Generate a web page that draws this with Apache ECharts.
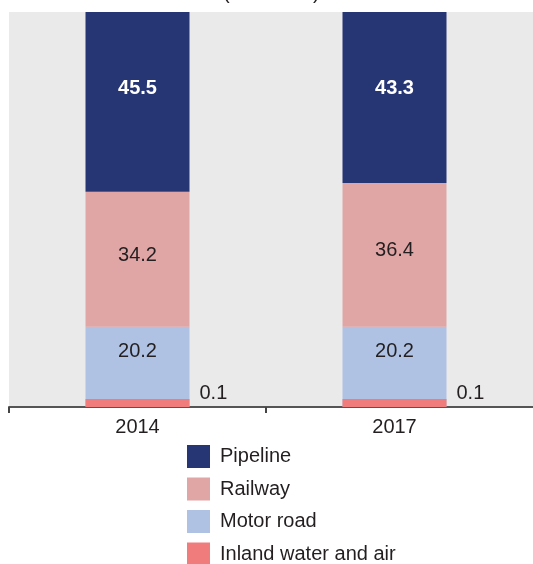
<!DOCTYPE html>
<html>
<head>
<meta charset="utf-8">
<script src="https://cdn.jsdelivr.net/npm/echarts@6/dist/echarts.min.js"></script>
<style>
  html, body { margin: 0; padding: 0; background: #fff; }
  #chart { width: 533px; height: 564px; }
</style>
</head>
<body>
<div id="chart"></div>
<script>
  // chart data
  const years = ['2014', '2017'];
  const inlandWaterAir = [0.1, 0.1];
  const motorRoad = [20.2, 20.2];
  const railway = [34.2, 36.4];
  const pipeline = [45.5, 43.3];
  const legendOrder = ['Pipeline', 'Railway', 'Motor road', 'Inland water and air'];

  const chart = echarts.init(document.getElementById('chart'));
  const font = 'Liberation Sans, Arial, sans-serif';
  const textColor = '#231F20';

  const option = {
    animation: false,
    textStyle: { fontFamily: font },
    title: {
      text: '(% of total)',
      left: 218,
      top: -22,
      textStyle: { fontFamily: font, fontSize: 20, fontWeight: 'normal', color: textColor }
    },
    // 3 bands wide so the grid runs past the right edge, like the cropped original
    grid: {
      left: 9, top: 12, width: 771, height: 395,
      outerBoundsMode: 'none',
      show: true, backgroundColor: '#EAEAEA', borderWidth: 0
    },
    legend: {
      orient: 'vertical',
      left: 187,
      top: 445,
      height: 140,
      padding: 0,
      itemWidth: 23,
      itemHeight: 23,
      itemGap: 9.5,
      icon: 'rect',
      data: legendOrder,
      textStyle: { fontFamily: font, fontSize: 20, color: textColor, padding: [0, 0, 0, 5] }
    },
    xAxis: {
      type: 'category',
      data: years,
      max: 2,
      axisLine: { lineStyle: { color: '#555', width: 2 } },
      axisTick: {
        show: true,
        length: 6,
        lineStyle: { color: '#444', width: 2 },
        // no tick at the boundary after 2017
        interval: (i) => i < 2
      },
      axisLabel: { fontFamily: font, fontSize: 20, color: textColor, margin: 10 }
    },
    yAxis: {
      type: 'value',
      min: 0,
      max: 100,
      show: false,
      splitLine: { show: false }
    },
    series: [
      {
        name: 'Inland water and air',
        type: 'bar',
        stack: 'total',
        barWidth: 104,
        barMinHeight: 8,
        z: 3,
        itemStyle: { color: '#F17C7C' },
        label: { show: true, position: 'right', distance: 10, offset: [0, -10], fontSize: 20, color: textColor },
        data: inlandWaterAir
      },
      {
        name: 'Motor road',
        type: 'bar',
        stack: 'total',
        barWidth: 104,
        itemStyle: { color: '#AFC2E3' },
        label: { show: true, position: 'inside', offset: [0, -15], fontSize: 20, color: textColor },
        data: motorRoad
      },
      {
        name: 'Railway',
        type: 'bar',
        stack: 'total',
        barWidth: 104,
        itemStyle: { color: '#E0A5A5' },
        label: { show: true, position: 'inside', offset: [0, -4], fontSize: 20, color: textColor },
        data: railway
      },
      {
        name: 'Pipeline',
        type: 'bar',
        stack: 'total',
        barWidth: 104,
        itemStyle: { color: '#263574' },
        label: { show: true, position: 'insideTop', distance: 66, fontSize: 20, fontWeight: 'bold', color: '#fff' },
        data: pipeline
      }
    ]
  };

  chart.setOption(option);
</script>
</body>
</html>
